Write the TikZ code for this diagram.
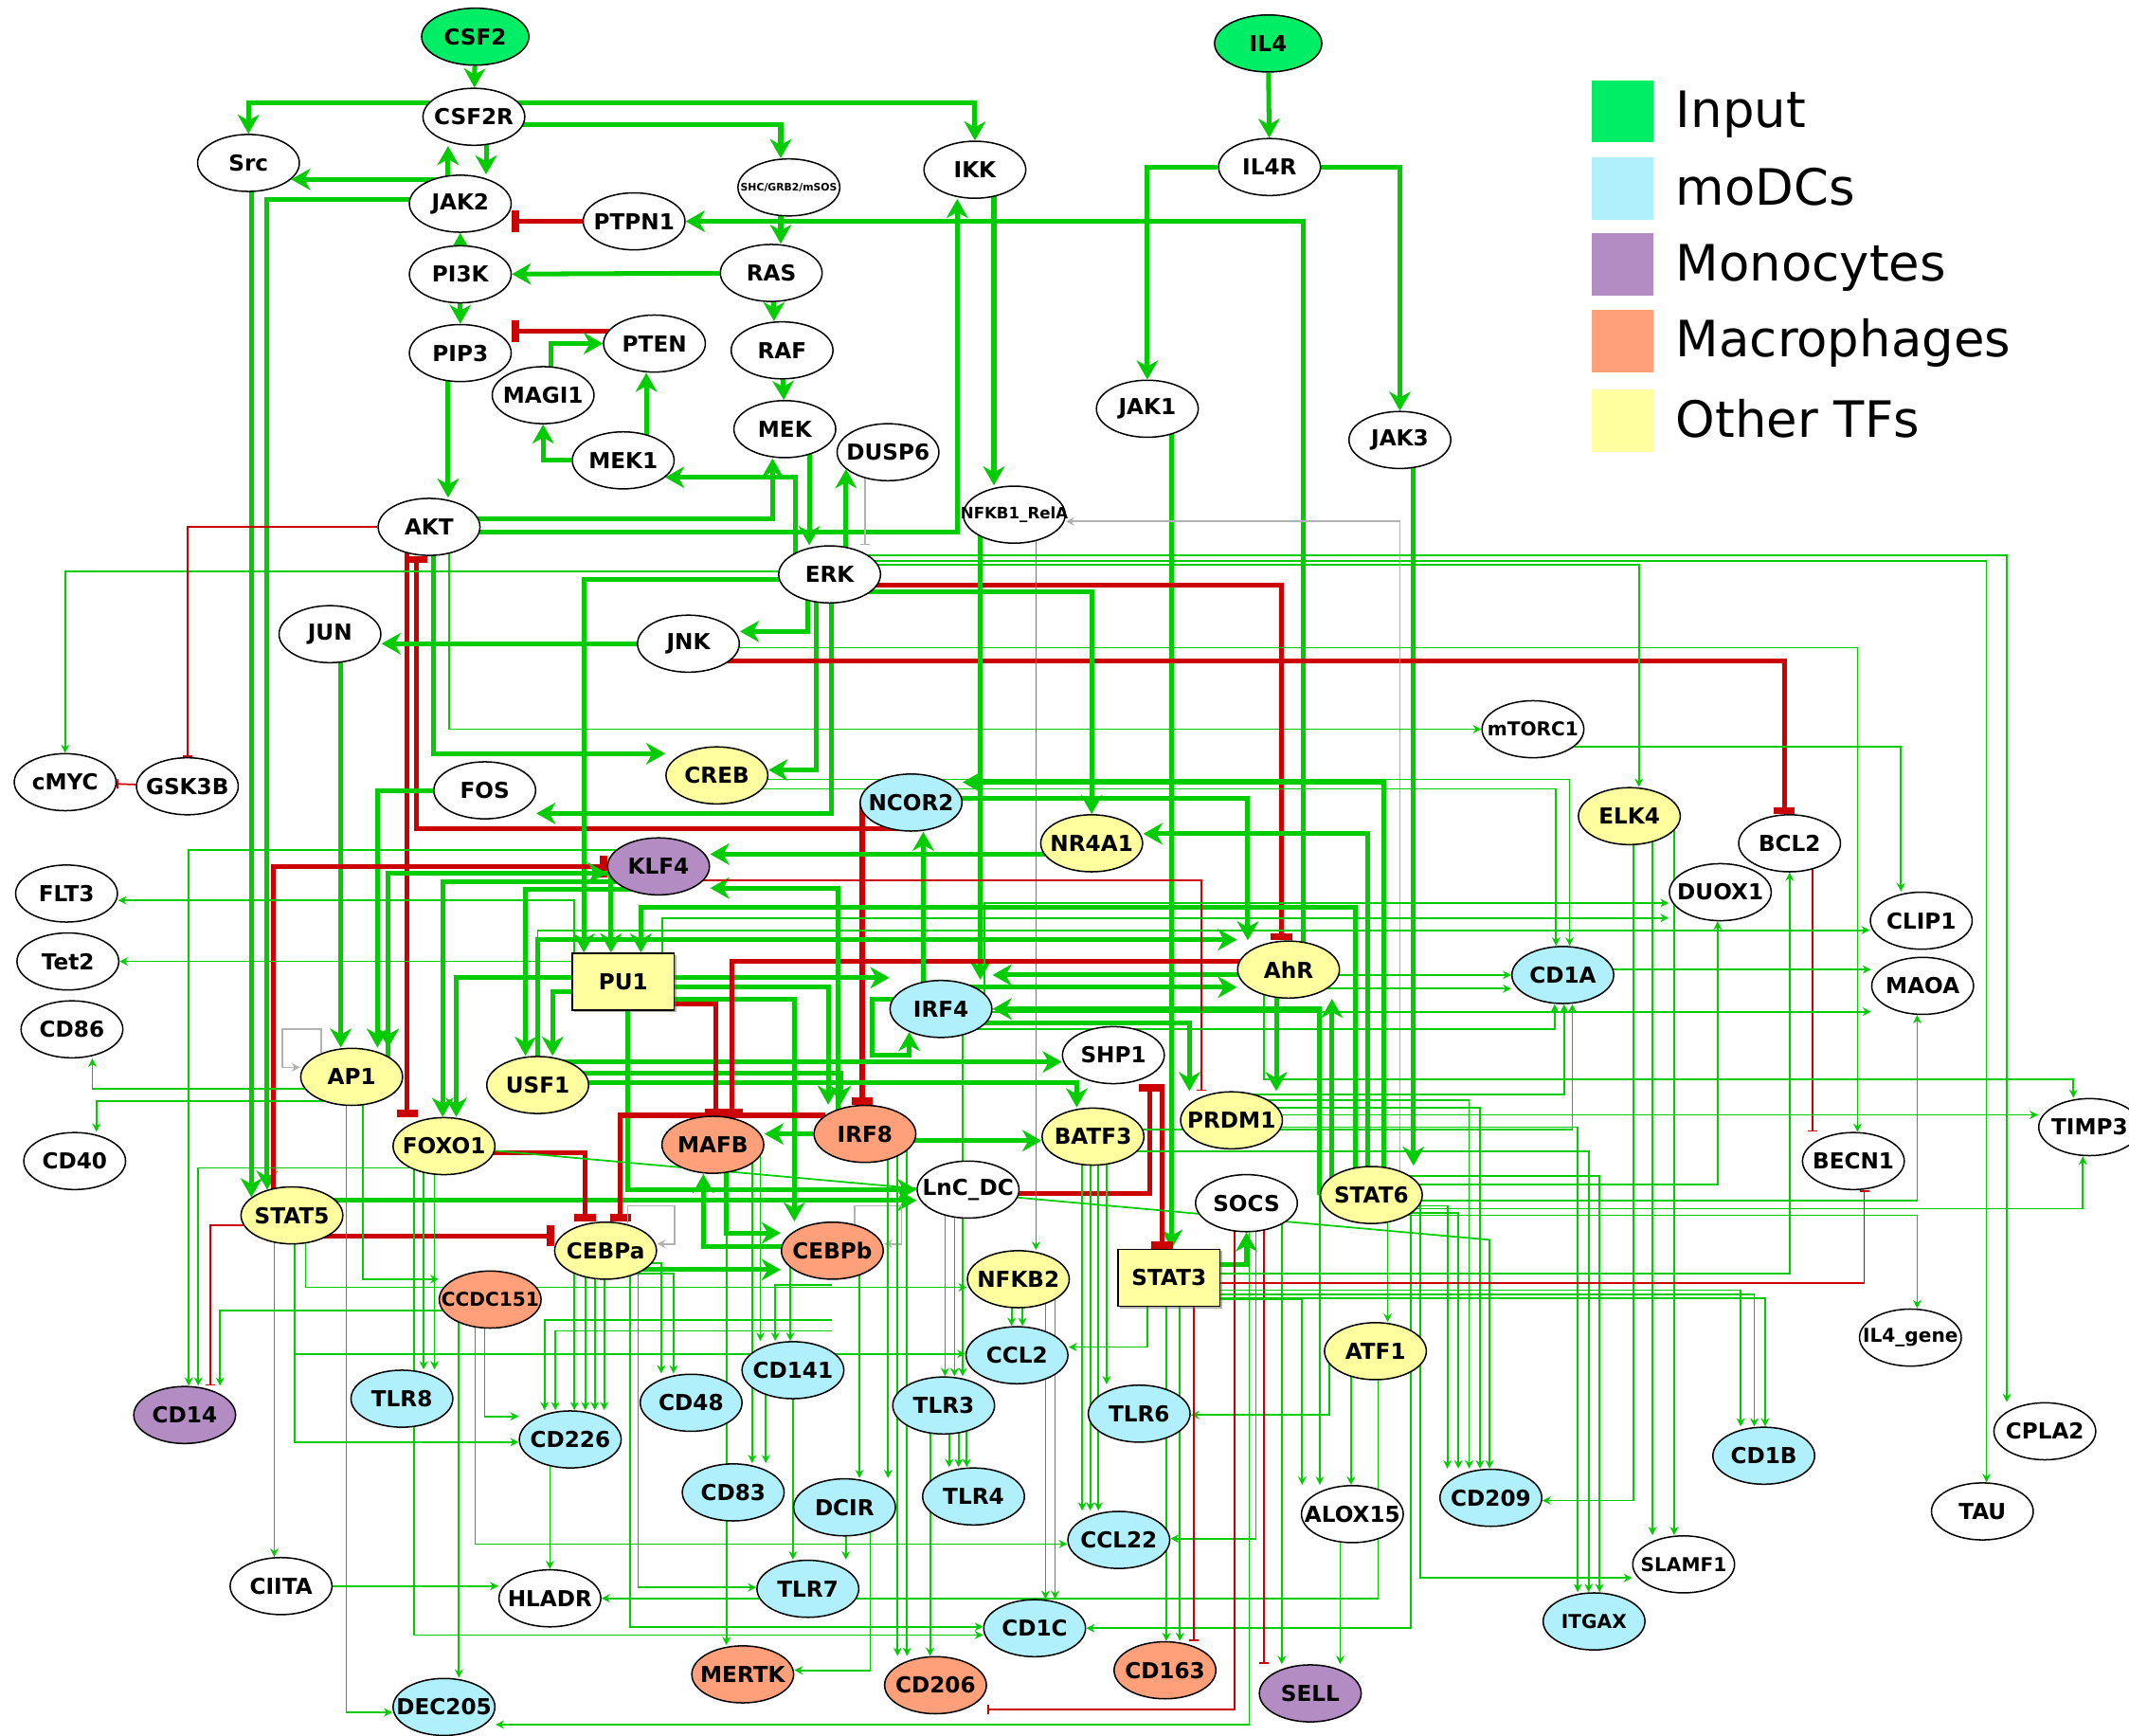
\documentclass[tikz,border=0pt]{standalone}
\usepackage{fontspec}
\setmainfont{DejaVu Sans}
\usetikzlibrary{shapes.geometric,arrows.meta,shadows}
\pgfdeclarelayer{background}
\pgfsetlayers{background,main}
\definecolor{inpc}{HTML}{00EE66}
\definecolor{modcc}{HTML}{B0F0FC}
\definecolor{monoc}{HTML}{B48CC4}
\definecolor{macc}{HTML}{FFA07A}
\definecolor{tfc}{HTML}{FFFFA0}
\definecolor{grn}{HTML}{00CC00}
\definecolor{rd}{HTML}{CC0000}
\newcommand{\gn}[1]{\makebox[0pt]{#1}}
\begin{document}
\begin{tikzpicture}[x=0.02cm,y=-0.02cm,
  gene/.style={ellipse,draw,line width=0.6pt,fill=white,minimum width=1.5cm,minimum height=0.84cm,inner sep=0pt,font=\bfseries\fontsize{9.2}{10}\selectfont},
  small/.style={font=\bfseries\fontsize{8}{9}\selectfont},
  inp/.style={gene,fill=inpc,minimum width=1.58cm},
  modc/.style={gene,fill=modcc},
  mono/.style={gene,fill=monoc},
  mac/.style={gene,fill=macc},
  tf/.style={gene,fill=tfc},
  tfbox/.style={gene,rectangle,fill=tfc,drop shadow={shadow xshift=0.8pt,shadow yshift=-0.8pt,fill=black!60}},
  act/.style={grn,line width=2pt,-{Stealth[length=8pt,width=9pt,inset=2.5pt]}},
  inh/.style={rd,line width=2pt,-{Bar[width=9pt,line width=3pt]}},
  tact/.style={grn,line width=0.7pt,-{Stealth[length=3.5pt,width=3.5pt]}},
  tinh/.style={rd,line width=0.7pt,-{Bar[width=4pt]}},
  gact/.style={gray!60,line width=0.7pt,-{Stealth[length=3.5pt,width=3.5pt]}},
  ginh/.style={gray!60,line width=0.7pt,-{Bar[width=4pt]}},
  legsq/.style={rectangle,minimum size=0.92cm,inner sep=0pt},
  legtxt/.style={anchor=base west,font=\fontsize{21}{24}\selectfont,inner sep=0pt}]
\useasboundingbox (0,0) rectangle (1568,1278);

\node[inp] (CSF2) at (350,27) {\gn{CSF2}};
\node[gene] (CSF2R) at (349,86) {\gn{CSF2R}};
\node[gene] (Src) at (183,120) {\gn{Src}};
\node[gene] (JAK2) at (339,150) {\gn{JAK2}};
\node[gene] (PTPN1) at (467,163) {\gn{PTPN1}};
\node[gene,font=\bfseries\fontsize{4.3}{5}\selectfont] (SHC) at (581,138) {\gn{SHC/GRB2/mSOS}};
\node[gene] (IKK) at (718,125) {\gn{IKK}};
\node[inp] (IL4) at (934,32) {\gn{IL4}};
\node[gene] (IL4R) at (935,123) {\gn{IL4R}};
\node[gene] (PI3K) at (339,202) {\gn{PI3K}};
\node[gene] (RAS) at (568,201) {\gn{RAS}};
\node[gene] (PIP3) at (339,260) {\gn{PIP3}};
\node[gene] (PTEN) at (482,253) {\gn{PTEN}};
\node[gene] (RAF) at (576,258) {\gn{RAF}};
\node[gene] (MAGI1) at (400,291) {\gn{MAGI1}};
\node[gene] (MEK) at (578,316) {\gn{MEK}};
\node[gene] (DUSP6) at (654,333) {\gn{DUSP6}};
\node[gene] (MEK1) at (459,339) {\gn{MEK1}};
\node[gene] (JAK1) at (845,301) {\gn{JAK1}};
\node[gene] (JAK3) at (1031,324) {\gn{JAK3}};
\node[gene,font=\bfseries\fontsize{6.6}{7}\selectfont] (NFKB) at (747,379) {\gn{NFKB1\_RelA}};
\node[gene] (AKT) at (316,388) {\gn{AKT}};
\node[gene] (ERK) at (611,423) {\gn{ERK}};
\node[gene] (JUN) at (243,467) {\gn{JUN}};
\node[gene] (JNK) at (507,474) {\gn{JNK}};
\node[gene,small] (mTORC1) at (1129,537) {\gn{mTORC1}};
\node[gene] (cMYC) at (48,576) {\gn{cMYC}};
\node[gene] (GSK3B) at (138,579) {\gn{GSK3B}};
\node[gene] (FOS) at (357,582) {\gn{FOS}};
\node[tf] (CREB) at (528,571) {\gn{CREB}};
\node[modc] (NCOR2) at (671,591) {\gn{NCOR2}};
\node[tf] (ELK4) at (1200,601) {\gn{ELK4}};
\node[gene] (BCL2) at (1318,621) {\gn{BCL2}};
\node[tf] (NR4A1) at (804,621) {\gn{NR4A1}};
\node[mono] (KLF4) at (485,638) {\gn{KLF4}};
\node[gene] (FLT3) at (49,658) {\gn{FLT3}};
\node[gene] (DUOX1) at (1267,657) {\gn{DUOX1}};
\node[gene] (CLIP1) at (1415,678) {\gn{CLIP1}};
\node[gene] (Tet2) at (50,708) {\gn{Tet2}};
\node[tf] (AhR) at (949,714) {\gn{AhR}};
\node[modc] (CD1A) at (1151,718) {\gn{CD1A}};
\node[gene] (MAOA) at (1416,726) {\gn{MAOA}};
\node[tfbox] (PU1) at (459,723) {\gn{PU1}};
\node[modc] (IRF4) at (693,743) {\gn{IRF4}};
\node[gene] (CD86) at (53,758) {\gn{CD86}};
\node[gene] (SHP1) at (820,777) {\gn{SHP1}};
\node[tf] (AP1) at (259,793) {\gn{AP1}};
\node[tf] (USF1) at (396,799) {\gn{USF1}};
\node[tf] (PRDM1) at (907,825) {\gn{PRDM1}};
\node[gene] (TIMP3) at (1539,830) {\gn{TIMP3}};
\node[mac] (IRF8) at (637,835) {\gn{IRF8}};
\node[tf] (BATF3) at (805,837) {\gn{BATF3}};
\node[tf] (FOXO1) at (327,844) {\gn{FOXO1}};
\node[mac] (MAFB) at (525,843) {\gn{MAFB}};
\node[gene] (CD40) at (55,855) {\gn{CD40}};
\node[gene] (BECN1) at (1365,855) {\gn{BECN1}};
\node[gene] (LnCDC) at (713,876) {\gn{LnC\_DC}};
\node[tf] (STAT6) at (1010,880) {\gn{STAT6}};
\node[gene] (SOCS) at (918,886) {\gn{SOCS}};
\node[tf] (STAT5) at (215,895) {\gn{STAT5}};
\node[mac] (CEBPb) at (613,921) {\gn{CEBPb}};
\node[tf] (CEBPa) at (446,921) {\gn{CEBPa}};
\node[tfbox] (STAT3) at (861,941) {\gn{STAT3}};
\node[tf] (NFKB2) at (750,942) {\gn{NFKB2}};
\node[mac,small] (CCDC151) at (361,957) {\gn{CCDC151}};
\node[gene,small] (IL4gene) at (1407,985) {\gn{IL4\_gene}};
\node[tf] (ATF1) at (1013,995) {\gn{ATF1}};
\node[modc] (CCL2) at (749,998) {\gn{CCL2}};
\node[modc] (CD141) at (584,1009) {\gn{CD141}};
\node[modc] (TLR8) at (296,1030) {\gn{TLR8}};
\node[modc] (CD48) at (509,1033) {\gn{CD48}};
\node[modc] (TLR3) at (695,1035) {\gn{TLR3}};
\node[modc] (TLR6) at (839,1041) {\gn{TLR6}};
\node[mono] (CD14) at (136,1042) {\gn{CD14}};
\node[gene] (CPLA2) at (1506,1054) {\gn{CPLA2}};
\node[modc] (CD226) at (420,1060) {\gn{CD226}};
\node[modc] (CD1B) at (1299,1072) {\gn{CD1B}};
\node[modc] (CD83) at (540,1099) {\gn{CD83}};
\node[modc] (TLR4) at (717,1102) {\gn{TLR4}};
\node[modc] (CD209) at (1098,1103) {\gn{CD209}};
\node[modc] (DCIR) at (622,1110) {\gn{DCIR}};
\node[gene] (TAU) at (1460,1113) {\gn{TAU}};
\node[gene] (ALOX15) at (996,1115) {\gn{ALOX15}};
\node[modc] (CCL22) at (824,1134) {\gn{CCL22}};
\node[gene,small] (SLAMF1) at (1240,1152) {\gn{SLAMF1}};
\node[gene] (CIITA) at (207,1168) {\gn{CIITA}};
\node[modc] (TLR7) at (595,1170) {\gn{TLR7}};
\node[gene] (HLADR) at (405,1177) {\gn{HLADR}};
\node[modc,small] (ITGAX) at (1174,1194) {\gn{ITGAX}};
\node[modc] (CD1C) at (762,1199) {\gn{CD1C}};
\node[mac] (CD163) at (858,1230) {\gn{CD163}};
\node[mac] (MERTK) at (547,1233) {\gn{MERTK}};
\node[mac] (CD206) at (689,1241) {\gn{CD206}};
\node[mono] (SELL) at (965,1247) {\gn{SELL}};
\node[modc] (DEC205) at (327,1257) {\gn{DEC205}};

\foreach \c/\t/\y [count=\i] in {inpc/Input/82,modcc/moDCs/139,monoc/Monocytes/195,macc/Macrophages/251,tfc/Other TFs/310} {
  \node[legsq,fill=\c] (leg\i) at (1195,\y) {};
  \node[legtxt] (legt\i) at (1234,\y+12) {\t};
}

\begin{pgfonlayer}{background}
\draw[act] (CSF2) -- (CSF2R);
\draw[act] (CSF2R |- 0,76) -| (Src.north);
\draw[act] (CSF2R |- 0,76) -| (IKK.north);
\draw[act] (CSF2R |- 0,92) -| (575,0 |- SHC.north);
\draw[act] (330,0 |- JAK2) -- (330,0 |- CSF2R.south);
\draw[act] (358,0 |- CSF2R) -- (358,0 |- JAK2.north);
\draw[act] (JAK2 |- Src.-21) -- (Src.-21);
\draw[act] (JAK2 |- 0,147) -| (STAT5.134);
\draw[act] (STAT5.156 |- Src) -- (STAT5.156);
\draw[inh] (PTPN1) -- (JAK2.east |- PTPN1);
\draw[act] (960,0 |- AhR) |- (PTPN1.east);
\draw[act] (PI3K) -- (JAK2);
\draw[act] (RAS) -- (PI3K);
\draw[act] (575,0 |- SHC) -- (575,0 |- RAS.north);
\draw[act] (PI3K) -- (PIP3);
\draw[inh] (PTEN |- 0,244) -- (PIP3.east |- 0,244);
\draw[act] (406,0 |- MAGI1) |- (PTEN.west);
\draw[act] (MEK1) -| (MAGI1.south);
\draw[act] (476,0 |- MEK1) -- (476,0 |- PTEN.south);
\draw[act] (570,0 |- RAS) -- (570,0 |- RAF.north);
\draw[act] (RAF) -- (MEK);
\draw[act] (330,0 |- PIP3) -- (330,0 |- AKT.north);
\draw[act] (AKT |- 0,382) -| (569,0 |- MEK.south);
\draw[act] (AKT |- 0,392) -| (705,0 |- IKK.south);
\draw[act] (596,0 |- MEK) -- (596,0 |- ERK.north);
\draw[act] (586,0 |- ERK) |- (MEK1.-22);
\draw[act] (DUSP6.202 |- ERK) -- (DUSP6.202);
\draw[ginh] (637,0 |- DUSP6) -- (637,0 |- ERK.north);
\draw[act] (732,0 |- IKK) -- (732,0 |- NFKB.north);
\draw[act] (IL4) -- (IL4R);
\draw[act] (IL4R) -| (JAK1.north);
\draw[act] (IL4R) -| (JAK3.north);
\draw[act] (863,0 |- JAK1) -- (863,0 |- STAT3.north);
\draw[act] (1041,0 |- JAK3) -- (1041,0 |- STAT6.north);

\draw[inh] (NCOR2 |- 0,610) -| (307,0 |- AKT.south);
\draw[inh] (635,0 |- NCOR2) -- (635,0 |- IRF8.north);
\draw[inh] (300,0 |- AKT) -- (300,0 |- FOXO1.north);
\draw[act] (319,0 |- AKT) |- (CREB.west |- 0,555);
\draw[tact] (331,0 |- AKT) |- (mTORC1.west);
\draw[tact] (ERK |- 0,421) -| (cMYC.north);
\draw[tinh] (AKT) -| (GSK3B.north);
\draw[tinh] (GSK3B) -- (cMYC);
\draw[act] (ERK |- 0,427) -| (430,0 |- PU1.north);
\draw[act] (JNK) -- (JUN.east |- JNK);
\draw[act] (595,0 |- ERK) |- (JNK.east |- 0,465);
\draw[act] (601,0 |- ERK) |- (CREB.east |- 0,567);
\draw[act] (612,0 |- ERK) |- (FOS.east |- 0,599);
\draw[act] (251,0 |- JUN) -- (251,0 |- AP1.north);
\draw[act] (FOS) -| (278,0 |- AP1.north);
\draw[inh] (JNK |- 0,487) -| (1314,0 |- BCL2.north);
\draw[inh] (ERK |- 0,431) -| (944,0 |- AhR.north);
\draw[act] (ERK |- 0,436) -| (NR4A1.north);
\draw[tact] (ERK |- 0,416) -| (1207,0 |- ELK4.north);
\draw[tact] (ERK |- 0,409) -| (1478,0 |- CPLA2.north);
\draw[tact] (ERK |- 0,413) -| (1463,0 |- TAU.north);
\draw[tact] (JNK |- 0,477) -| (1368,0 |- BECN1.north);
\draw[tact] (mTORC1 |- 0,550) -| (1400,0 |- CLIP1.north);
\draw[tinh] (1335,0 |- BCL2) -- (1335,0 |- BECN1.north);

\draw[act] (STAT3 |- 0,931) -| (SOCS.south);
\draw[inh] (LnCDC |- 0,879) -| (847,0 |- SHP1.south);
\draw[inh] (856,0 |- SHP1.south) -- (856,0 |- STAT3.north);
\draw[act] (722,0 |- NFKB) -- (722,0 |- IRF4.north);
\draw[tact] (763,0 |- NFKB) -- (763,0 |- NFKB2.north);
\draw[gact] (1031,0 |- STAT6) |- (NFKB.east |- 0,384);
\draw[inh] (201,0 |- STAT5) |- (KLF4.west);
\draw[act] (NR4A1 |- 0,629) -- (KLF4.east |- 0,629);
\draw[act] (1007,0 |- STAT6) |- (NR4A1.east |- 0,614);
\draw[act] (1019,0 |- STAT6) |- (NCOR2.east |- 0,576);
\draw[act] (NCOR2 |- 0,588) -| (919,0 |- AhR.north);
\draw[act] (998,0 |- STAT6) |- (472,668) -- (472,0 |- PU1.north);
\draw[act] (981,0 |- STAT6) -- (981,0 |- AhR.south);
\draw[act] (940,0 |- AhR) -- (940,0 |- PRDM1.north);
\draw[act] (AhR |- 0,718) -- (IRF4.east |- 0,718);
\draw[act] (972,0 |- STAT6) |- (IRF4.east);
\draw[act] (IRF4 |- 0,727) -- (AhR.west |- 0,727);
\draw[act] (IRF4 |- 0,736) -| (642,777) -| (IRF4.216);
\draw[act] (396,0 |- USF1) |- (AhR.west |- 0,692);
\draw[act] (KLF4 |- 0,655) -| (387,0 |- USF1.north);
\draw[act] (PU1 |- 0,730) -| (407,0 |- USF1.north);
\draw[act] (286,0 |- AP1) |- (KLF4.west |- 0,643);
\draw[act] (KLF4 |- 0,643) -| (286,0 |- AP1.north);
\draw[act] (KLF4 |- 0,649) -| (326,0 |- FOXO1.north);
\draw[act] (PU1 |- 0,720) -| (336,0 |- FOXO1.north);
\draw[act] (450,0 |- KLF4) -- (450,0 |- PU1.north);
\draw[act] (PU1 |- 0,720) -- (IRF4.west |- 0,720);
\draw[act] (PU1 |- 0,727) -| (610,0 |- IRF8.north);
\draw[act] (USF1 |- 0,790) -| (619,0 |- IRF8.north);
\draw[act] (USF1 |- 0,782) -- (SHP1.west |- 0,782);
\draw[act] (USF1 |- 0,797) -| (793,0 |- BATF3.north);
\draw[act] (STAT5 |- 0,884) -- (LnCDC.west |- 0,884);
\draw[act] (462,0 |- PU1) |- (LnCDC.west |- 0,876);
\draw[act] (CEBPa |- 0,935) -- (CEBPb.west |- 0,935);
\draw[act] (535,0 |- MAFB) |- (CEBPb.west |- 0,908);
\draw[act] (CEBPb |- 0,918) -| (518,0 |- MAFB.south);
\draw[act] (IRF8) -- (MAFB.east |- IRF8);
\draw[act] (PU1 |- 0,736) -| (585,0 |- CEBPb.north);
\draw[act] (IRF8 |- 0,840) -- (BATF3.west |- 0,840);
\draw[inh] (PU1 |- 0,739) -| (527,0 |- MAFB.north);
\draw[inh] (AhR |- 0,708) -| (539,0 |- MAFB.north);
\draw[inh] (IRF8.155) -| (457,0 |- CEBPa.north);
\draw[inh] (FOXO1 |- 0,849) -| (431,0 |- CEBPa.north);
\draw[inh] (STAT5 |- 0,910) -- (CEBPa.west |- 0,910);
\draw[act] (IRF4 |- 0,753) -| (876,0 |- PRDM1.north);
\draw[act] (680,0 |- IRF4) -- (680,0 |- NCOR2.south);
\draw[act] (617,0 |- IRF8) |- (KLF4.east |- 0,654);

\draw[tinh] (KLF4 |- 0,648) -| (885,0 |- PRDM1.north);
\draw[tact] (KLF4 |- 0,626) -| (139,0 |- CD14.north);
\draw[tact] (FOXO1 |- 0,860) -| (146,0 |- CD14.north);
\draw[tinh] (STAT5 |- 0,902) -| (155,0 |- CD14.north);
\draw[tact] (CCDC151 |- 0,965) -| (162,0 |- CD14.north);
\draw[tact] (423,0 |- PU1) |- (FLT3.east |- 0,663);
\draw[tact] (PU1 |- Tet2.east) -- (Tet2.east);
\draw[tact] (AP1 |- 0,802) -| (68,0 |- CD86.south);
\draw[tact] (AP1 |- 0,811) -| (71,0 |- CD40.north);
\draw[gact] (AP1.142) |- (208,758) |- (AP1.west |- 0,786);
\draw[gact] (CEBPa.50) |- (497,888) |- (CEBPa.east |- 0,916);
\draw[gact] (CEBPb.50) |- (664,888) |- (CEBPb.east |- 0,916);
\draw[tact] (202,0 |- STAT5) -- (202,0 |- CIITA.north);
\draw[tact] (217,0 |- STAT5) |- (CD226.west |- 0,1062);
\draw[tact] (217,0 |- STAT5) |- (CCL2.west |- 0,997);
\draw[tact] (225,0 |- STAT5) |- (NFKB2.west |- 0,948);
\draw[tact] (255,0 |- AP1) |- (DEC205.west |- 0,1261);
\draw[tact] (267,0 |- AP1) |- (CCDC151.west |- 0,942);
\draw[tact] (312,0 |- FOXO1) -- (312,0 |- TLR8.north);
\draw[tact] (320,0 |- FOXO1) -- (320,0 |- TLR8.north);
\draw[tact] (305,0 |- FOXO1) |- (CD1C.west |- 0,1204);
\draw[tact] (338,0 |- CCDC151) -- (338,0 |- DEC205.north);
\draw[tact] (357,0 |- CCDC151) |- (CD226.west |- 0,1043);
\draw[tact] (350,0 |- CCDC151) |- (CCL22.west |- 0,1137);
\draw[tact] (405,0 |- CD226) -- (405,0 |- HLADR.north);
\draw[tact] (CIITA) -- (HLADR.west |- CIITA);
\draw[tact] (1015,0 |- ATF1) |- (HLADR.east |- 0,1177);
\draw[tact] (470,0 |- CEBPa) |- (TLR7.west |- 0,1169);
\draw[tact] (CEBPa |- 0,930) -| (487,0 |- CD48.north);
\draw[tact] (CEBPa |- 0,938) -| (496,0 |- CD48.north);
\draw[tact] (423,0 |- CEBPa) -- (423,0 |- CD226.north);
\draw[tact] (431,0 |- CEBPa) -- (431,0 |- CD226.north);
\draw[tact] (438,0 |- CEBPa) -- (438,0 |- CD226.north);
\draw[tact] (445,0 |- CEBPa) -- (445,0 |- CD226.north);
\draw[tact] (CEBPb |- 0,972) -| (401,0 |- CD226.north);
\draw[tact] (CEBPb |- 0,980) -| (409,0 |- CD226.north);
\draw[tact] (560,0 |- MAFB) -- (560,0 |- CD141.north);
\draw[tact] (CEBPb |- 0,946) -| (571,0 |- CD141.north);
\draw[tact] (582,0 |- CEBPb) -- (582,0 |- CD141.north);
\draw[tact] (584,0 |- CD141) -- (584,0 |- TLR7.north);
\draw[tact] (554,0 |- MAFB) -- (554,0 |- CD83.north);
\draw[tact] (564,0 |- CD141) -- (564,0 |- CD83.north);
\draw[tact] (535,0 |- MAFB) -- (535,0 |- MERTK.north);
\draw[tact] (641,0 |- DCIR) |- (MERTK.east |- 0,1230);
\draw[tact] (623,0 |- DCIR) -- (623,0 |- TLR7.north);
\draw[tact] (633,0 |- CEBPb) -- (633,0 |- DCIR.north);
\draw[tact] (654,0 |- IRF8) -- (654,0 |- DCIR.north);
\draw[tact] (661,0 |- IRF8) -- (661,0 |- CD206.north);
\draw[tact] (668,0 |- IRF8) -- (668,0 |- CD206.north);
\draw[tact] (685,0 |- TLR3) -- (685,0 |- CD206.north);
\draw[tact] (696,0 |- LnCDC) -- (696,0 |- TLR3.north);
\draw[tact] (703,0 |- LnCDC) -- (703,0 |- TLR3.north);
\draw[tact] (709,0 |- IRF4) -- (709,0 |- TLR3.north);
\draw[tact] (699,0 |- TLR3) -- (699,0 |- TLR4.north);
\draw[tact] (706,0 |- TLR3) -- (706,0 |- TLR4.north);
\draw[tact] (712,0 |- TLR3) -- (712,0 |- TLR4.north);
\draw[tact] (464,0 |- CEBPa) |- (CD1C.west |- 0,1198);
\draw[tact] (770,0 |- NFKB2) -- (770,0 |- CD1C.north);
\draw[tact] (777,0 |- NFKB2) -- (777,0 |- CD1C.north);
\draw[tact] (1039,0 |- STAT6) |- (CD1C.east |- 0,1199);
\draw[tact] (797,0 |- BATF3) -- (797,0 |- CCL22.north);
\draw[tact] (803,0 |- BATF3) -- (803,0 |- CCL22.north);
\draw[tact] (809,0 |- BATF3) -- (809,0 |- CCL22.north);
\draw[tact] (925,0 |- SOCS) |- (CCL22.east |- 0,1133);
\draw[tact] (815,0 |- BATF3) -- (815,0 |- TLR6.north);
\draw[tact] (979,0 |- ATF1) |- (TLR6.east |- 0,1042);
\draw[tact] (745,0 |- NFKB2) -- (745,0 |- CCL2.north);
\draw[tact] (753,0 |- NFKB2) -- (753,0 |- CCL2.north);
\draw[tact] (845,0 |- STAT3) |- (CCL2.east |- 0,992);
\draw[tact] (859,0 |- STAT3) -- (859,0 |- CD163.north);
\draw[tact] (869,0 |- STAT3) -- (869,0 |- CD163.north);
\draw[tinh] (879,0 |- STAT3) -- (879,0 |- CD163.north);
\draw[tinh] (909,0 |- SOCS) |- (CD206.east |- 0,1259);
\draw[tinh] (931,0 |- SOCS) -- (931,0 |- SELL.north);
\draw[tact] (944,0 |- SOCS) -- (944,0 |- SELL.north);
\draw[tact] (920,0 |- SOCS) |- (DEC205.east |- 0,1270);
\draw[tact] (987,0 |- ALOX15) -- (987,0 |- SELL.north);
\draw[tact] (STAT3 |- 0,957) -| (959,0 |- ALOX15.north);
\draw[tact] (972,0 |- STAT6) -- (972,0 |- ALOX15.north);
\draw[tact] (995,0 |- ATF1) -- (995,0 |- ALOX15.north);
\draw[tact] (1022,0 |- STAT6) -- (1022,0 |- ATF1.north);
\draw[tact] (1046,0 |- STAT6) |- (SLAMF1.west |- 0,1162);
\draw[tact] (STAT6 |- 0,888) -| (1066,0 |- CD209.north);
\draw[tact] (STAT6 |- 0,893) -| (1074,0 |- CD209.north);
\draw[tact] (PRDM1 |- 0,810) -| (1082,0 |- CD209.north);
\draw[tact] (PRDM1 |- 0,816) -| (1090,0 |- CD209.north);
\draw[tact] (FOXO1) -- (1097,913) -- (1097,0 |- CD209.north);
\draw[tact] (1203,0 |- ELK4) |- (CD209.east |- 0,1105);
\draw[tact] (1217,0 |- ELK4) -- (1217,0 |- SLAMF1.north);
\draw[tact] (1233,0 |- ELK4) -- (1233,0 |- SLAMF1.north);
\draw[tact] (PRDM1 |- 0,830) -| (1162,0 |- ITGAX.north);
\draw[tact] (BATF3 |- 0,848) -| (1170,0 |- ITGAX.north);
\draw[tact] (STAT6 |- 0,866) -| (1178,0 |- ITGAX.north);
\draw[tact] (STAT6 |- 0,872) -| (1265,0 |- DUOX1.south);
\draw[tact] (STAT6 |- 0,895) -| (1412,0 |- IL4gene.north);
\draw[tact] (STAT6 |- 0,890) -| (1534,0 |- TIMP3.south);
\draw[tact] (STAT6 |- 0,884) -| (1412,0 |- MAOA.south);
\draw[tact] (PRDM1 |- 0,821) -- (TIMP3.west |- 0,821);
\draw[tact] (931,0 |- AhR) |- (1527,795) -- (1527,0 |- TIMP3.north);
\draw[tinh] (STAT3 |- 0,945) -| (1373,0 |- BECN1.south);
\draw[tact] (STAT3 |- 0,938) -| (1318,0 |- BCL2.south);
\draw[tact] (STAT3 |- 0,950) -| (1282,0 |- CD1B.north);
\draw[tact] (STAT3 |- 0,953) -| (1292,0 |- CD1B.north);
\draw[tact] (STAT3 |- 0,956) -| (1300,0 |- CD1B.north);
\draw[tact] (AhR |- 0,718) -- (CD1A.west);
\draw[tact] (AhR |- 0,728) -- (CD1A.west |- 0,728);
\draw[tact] (CREB |- 0,574) -| (1156,0 |- CD1A.north);
\draw[tact] (CREB |- 0,581) -| (1146,0 |- CD1A.north);
\draw[tact] (IRF4 |- 0,758) -| (1145,0 |- CD1A.south);
\draw[tact] (PRDM1 |- 0,806) -| (1152,0 |- CD1A.south);
\draw[tact] (BATF3 |- 0,832) -| (1158,0 |- CD1A.south);
\draw[tact] (CD1A |- 0,714) -- (MAOA.west |- 0,714);
\draw[tact] (IRF4 |- 0,745) -- (MAOA.west |- 0,745);
\draw[tact] (396,0 |- USF1) |- (CLIP1.west |- 0,685);
\draw[tact] (488,0 |- PU1) |- (DUOX1.west |- 0,676);
\draw[tact] (725,0 |- IRF4) |- (DUOX1.west |- 0,665);
\end{pgfonlayer}
\end{tikzpicture}
\end{document}
